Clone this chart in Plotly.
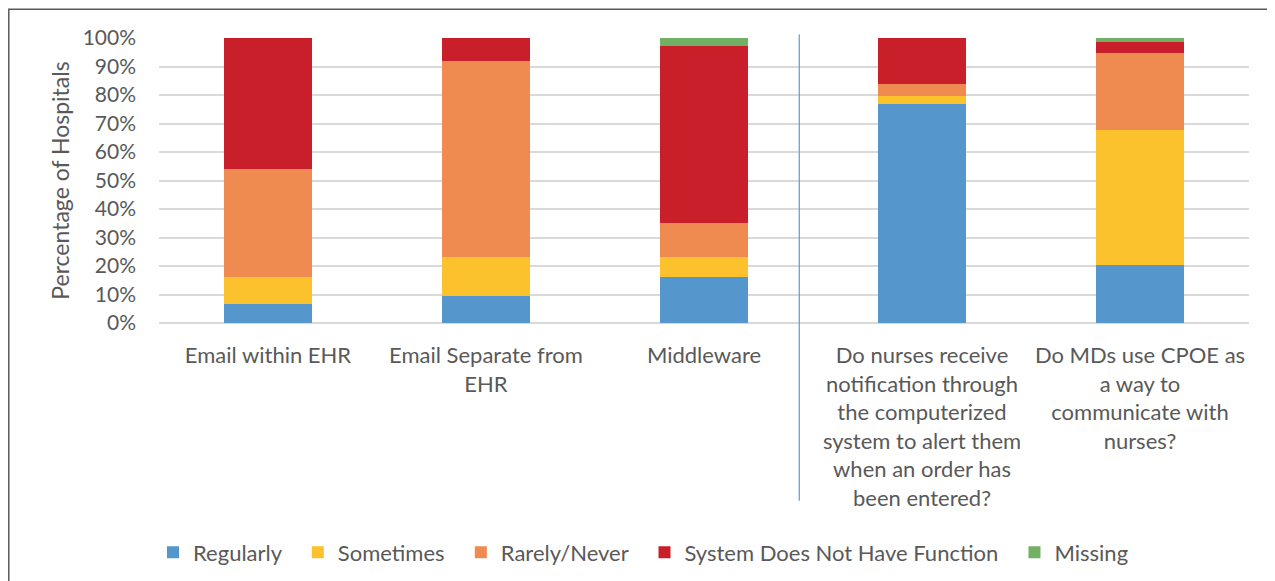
import plotly.graph_objects as go

categories = [
    "Email within EHR",
    "Email Separate from<br>EHR",
    "Middleware",
    "Do nurses receive<br>notification through<br>the computerized<br>system to alert them<br>when an order has<br>been entered?",
    "Do MDs use CPOE as<br>a way to<br>communicate with<br>nurses?",
]
regularly = [6.7, 9.5, 16.2, 76.8, 20.2]
sometimes = [9.5, 13.6, 6.9, 2.8, 47.4]
rarely_never = [37.8, 68.7, 12.0, 4.1, 27.0]
no_function = [46.0, 8.2, 62.0, 16.3, 4.0]
missing = [0.0, 0.0, 2.9, 0.0, 1.4]

series = [
    ("Regularly", regularly, "#5596CD"),
    ("Sometimes", sometimes, "#FCC22E"),
    ("Rarely/Never", rarely_never, "#EF8B51"),
    ("System Does Not Have Function", no_function, "#C81F2B"),
    ("Missing", missing, "#72B066"),
]
y_ticks = [0, 10, 20, 30, 40, 50, 60, 70, 80, 90, 100]

FONT = "Lato"
TXT = "#595959"
PAD = "\u00a0\u00a0"

fig = go.Figure()
for i, (name, vals, col) in enumerate(series):
    fig.add_trace(go.Bar(
        x=categories, y=vals, name=name + (PAD if i < len(series) - 1 else ""),
        marker=dict(color=col, line=dict(width=0)),
    ))

fig.update_layout(
    barmode="stack",
    bargap=0.6,
    width=1267, height=573,
    margin=dict(l=151, r=26, t=29.5, b=258, autoexpand=False),
    paper_bgcolor="white",
    plot_bgcolor="white",
    font=dict(family=FONT, color=TXT, size=22),
    showlegend=True,
    legend=dict(
        orientation="h", x=0.4445, xanchor="center", y=-0.8055, yanchor="middle",
        font=dict(size=22, color=TXT, family=FONT), traceorder="normal",
        itemwidth=30,
    ),
    xaxis=dict(
        tickmode="array", tickvals=categories, ticktext=categories,
        tickfont=dict(size=22, color=TXT, family=FONT),
        showgrid=False, showline=False, ticks="", ticklabelstandoff=17,
    ),
    yaxis=dict(
        range=[0, 100], tickvals=y_ticks, ticktext=["%d%%" % v for v in y_ticks],
        tickfont=dict(size=21, color=TXT, family=FONT),
        showgrid=True, gridcolor="#D9D9D9", gridwidth=1.5,
        zeroline=True, zerolinecolor="#D9D9D9", zerolinewidth=2,
        showline=False, ticks="", ticklabelstandoff=22,
        title=dict(text="Percentage of Hospitals", font=dict(size=23, color=TXT, family=FONT), standoff=6),
    ),
    shapes=[
        dict(type="rect", xref="paper", yref="paper",
             x0=-0.1378, x1=1.03, y0=-0.95, y1=1.1007,
             line=dict(color="#595959", width=1.5), fillcolor="rgba(0,0,0,0)", layer="above"),
        dict(type="line", xref="paper", yref="paper",
             x0=0.5874, x1=0.5874, y0=-0.6235, y1=1.0123,
             line=dict(color="#5B9BD5", width=1.2)),
    ],
)

fig.write_html("out.html")
